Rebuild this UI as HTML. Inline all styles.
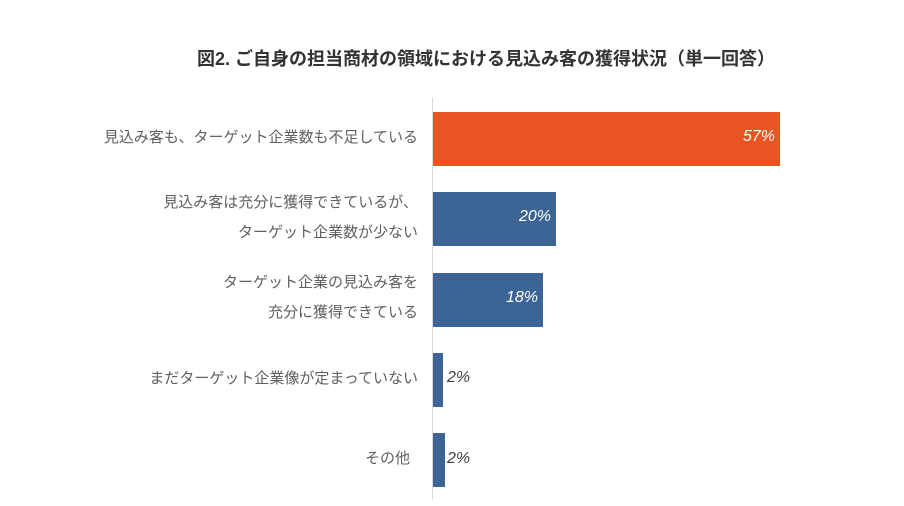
<!DOCTYPE html>
<html><head><meta charset="utf-8">
<style>
body{margin:0;width:904px;height:506px;background:#fff;position:relative;overflow:hidden;font-family:"Liberation Sans","Noto Sans CJK JP",sans-serif;}
.t{position:absolute;left:196px;width:580px;top:45px;text-align:center;font-size:18px;font-weight:bold;color:#333;white-space:nowrap;}
.ax{position:absolute;left:432px;top:98px;width:1px;height:402px;background:#d9d9d9;}
.b{position:absolute;left:433px;}
.l{position:absolute;right:486px;text-align:right;font-size:15px;color:#606060;line-height:30px;white-space:nowrap;}
.v{position:absolute;font-size:16px;font-style:italic;color:#fff;text-align:right;width:60px;}
.vo{position:absolute;font-size:16px;font-style:italic;color:#404040;}
</style></head><body>
<div class="t">図2. ご自身の担当商材の領域における見込み客の獲得状況（単一回答）</div>
<div class="ax"></div>
<div class="b" style="top:112px;width:347px;height:54px;background:#e85422"></div>
<div class="b" style="top:192px;width:123px;height:54px;background:#3c6494"></div>
<div class="b" style="top:273px;width:110px;height:54px;background:#3c6494"></div>
<div class="b" style="top:353px;width:10px;height:54px;background:#3c6494"></div>
<div class="b" style="top:433px;width:12px;height:54px;background:#3c6494"></div>
<div class="l" style="top:123px">見込み客も、ターゲット企業数も不足している</div>
<div class="l" style="top:188px">見込み客は充分に獲得できているが、<br>ターゲット企業数が少ない</div>
<div class="l" style="top:268px">ターゲット企業の見込み客を<br>充分に獲得できている</div>
<div class="l" style="top:364px">まだターゲット企業像が定まっていない</div>
<div class="l" style="top:444px;right:494px">その他</div>
<div class="v" style="left:715px;top:128px">57%</div>
<div class="v" style="left:491px;top:208px">20%</div>
<div class="v" style="left:478px;top:289px">18%</div>
<div class="vo" style="left:447px;top:369px">2%</div>
<div class="vo" style="left:447px;top:450px">2%</div>
</body></html>
